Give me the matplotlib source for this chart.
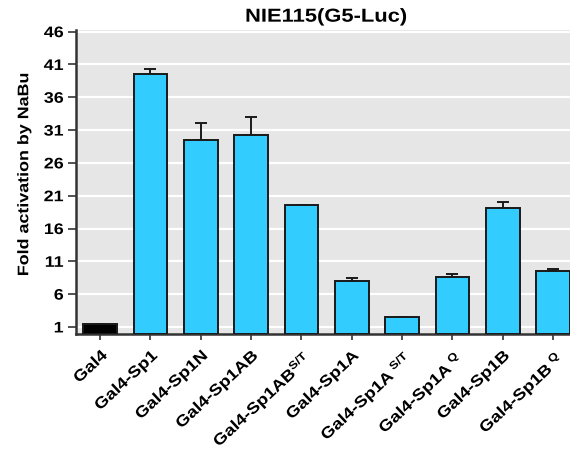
import matplotlib
matplotlib.use("Agg")
import matplotlib.pyplot as plt
import numpy as np
from matplotlib.patheffects import AbstractPathEffect
from matplotlib.transforms import Affine2D

plt.rcParams['font.family'] = ['Liberation Sans', 'DejaVu Sans']
plt.rcParams['mathtext.fontset'] = 'custom'
plt.rcParams['mathtext.rm'] = 'Liberation Sans:bold'
plt.rcParams['mathtext.bf'] = 'Liberation Sans:bold'
plt.rcParams['mathtext.it'] = 'Liberation Sans:bold'

# Constructs and measured fold activation
constructs = ['Gal4', 'Gal4-Sp1', 'Gal4-Sp1N', 'Gal4-Sp1AB',
              r'Gal4-Sp1AB$^{S/T}$', 'Gal4-Sp1A', r'Gal4-Sp1A$^{\ S/T}$',
              r'Gal4-Sp1A$^{\ Q}$', 'Gal4-Sp1B', r'Gal4-Sp1B$^{\ Q}$']
fold = [1.5, 39.5, 29.55, 30.2, 19.6, 8.0, 2.58, 8.65, 19.1, 9.6]
err_up = [0.0, 0.8, 2.55, 2.8, 0.0, 0.45, 0.0, 0.45, 0.95, 0.2]
y_ticks = [1, 6, 11, 16, 21, 26, 31, 36, 41, 46]

colors = ['#000000'] + ['#33CCFF'] * (len(constructs) - 1)


class Widen(AbstractPathEffect):
    """Stretch text glyphs along the writing direction."""

    def __init__(self, factor, anchor='center'):
        super().__init__()
        self.factor = factor
        self.anchor = anchor

    def draw_path(self, renderer, gc, tpath, affine, rgbFace=None):
        ext = tpath.get_extents()
        pivot = {'left': 0.0, 'right': ext.x1,
                 'center': 0.5 * (ext.x0 + ext.x1)}[self.anchor]
        st = Affine2D().translate(-pivot, 0).scale(self.factor, 1).translate(pivot, 0)
        renderer.draw_path(gc, tpath, st + affine, rgbFace)


WIDE = 1.17

fig = plt.figure(figsize=(5.70, 4.51), dpi=100)
ax = fig.add_axes([76 / 570, 1 - 333.5 / 451, 1 - 76 / 570 + 0.01, (333.5 - 30) / 451])
ax.set_facecolor('#E6E6E6')

x = np.arange(len(constructs))
ax.bar(x, fold, width=0.67, color=colors, edgecolor='#1a1a1a', linewidth=1.4, zorder=3)
ax.errorbar(x, fold, yerr=[np.zeros(len(fold)), err_up], fmt='none',
            ecolor='#1a1a1a', elinewidth=1.4, capsize=4.5, capthick=1.4, zorder=2)

ax.set_ylim(0, 46.25)
ax.set_xlim(-0.48, 9.45)
ax.set_yticks(y_ticks)
ax.set_yticklabels([str(t) for t in y_ticks], fontsize=11, fontweight='bold')
ax.yaxis.grid(True, color='white', linewidth=1.6, zorder=1)
ax.set_axisbelow(True)

ax.set_xticks(x)
ax.set_xticklabels(constructs, rotation=43, ha='right', rotation_mode='anchor',
                   fontsize=11.3, fontweight='bold')

for s in ['top', 'right']:
    ax.spines[s].set_visible(False)
for s in ['left', 'bottom']:
    ax.spines[s].set_color('#333333')
    ax.spines[s].set_linewidth(1.8)
ax.tick_params(axis='y', length=6, width=1.2, color='#333333', pad=3)
ax.tick_params(axis='x', length=4, width=1.2, color='#333333', pad=6)

for lab in ax.get_yticklabels() + ax.get_xticklabels():
    lab.set_path_effects([Widen(WIDE, 'right')])

ylab = ax.set_ylabel('Fold activation by NaBu', fontsize=11, fontweight='bold', labelpad=11)
ylab.set_y(0.525)
ylab.set_path_effects([Widen(WIDE, 'center')])
ttl = ax.set_title('NIE115(G5-Luc)', fontsize=13.5, fontweight='bold', pad=6)
ttl.set_path_effects([Widen(WIDE, 'center')])

fig.savefig('out.png', dpi=100)
